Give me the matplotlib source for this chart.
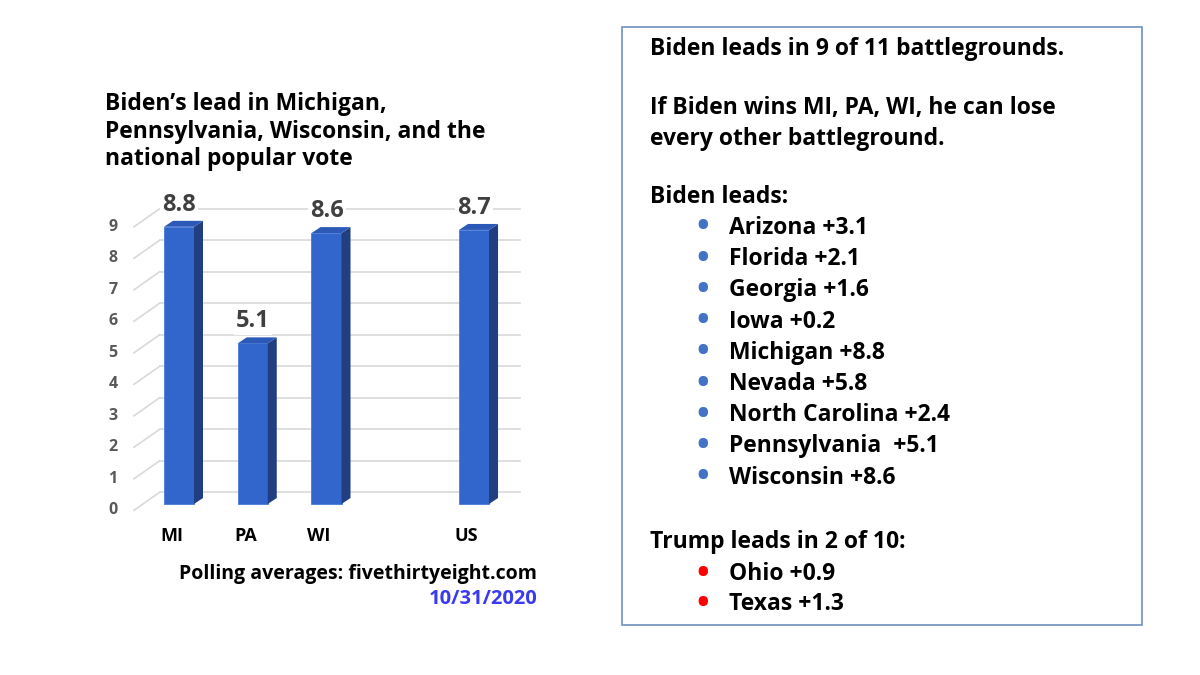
import numpy as np
import matplotlib
matplotlib.use("Agg")
import matplotlib.pyplot as plt
from matplotlib.patches import Polygon, Rectangle

plt.rcParams['font.family'] = ['Open Sans', 'DejaVu Sans']
plt.rcParams['font.weight'] = 'bold'

# data
states = ['MI', 'PA', 'WI', 'US']
positions = [0, 1, 2, 4]          # gap before the national bar
leads = [8.8, 5.1, 8.6, 8.7]
yticks = list(range(0, 10))

title = "Biden\u2019s lead in Michigan,\nPennsylvania, Wisconsin, and the\nnational popular vote"
source = "Polling averages: fivethirtyeight.com"
date = "10/31/2020"

biden_states = ['Arizona +3.1', 'Florida +2.1', 'Georgia +1.6', 'Iowa +0.2',
                'Michigan +8.8', 'Nevada +5.8', 'North Carolina +2.4',
                'Pennsylvania  +5.1', 'Wisconsin +8.6']
trump_states = ['Ohio +0.9', 'Texas +1.3']

W, H = 1200, 675
fig = plt.figure(figsize=(12, 6.75), dpi=100)

def fx(x):
    return x / W

def fy(y):
    return 1 - y / H

# chart axes: pixel box 100..530 x 190..520
ax = fig.add_axes([fx(100), fy(520), 430 / W, 330 / H])
ax.set_xlim(-1.071, 4.759)
ax.set_ylim(-0.508, 9.968)
ax.axis('off')

front = '#3366cc'
side = '#213f80'
top = '#2c59b8'
grid_c = '#d9d9d9'
bw = 0.407
ddx, ddy = 0.122, 0.19   # bar depth
gdy = 0.38               # back wall offset

# back-wall gridlines and slanted floor lines
for v in yticks:
    ax.plot([-0.258, 4.62], [v + gdy, v + gdy], color=grid_c, lw=1.2, zorder=1)
    ax.plot([-0.61, -0.258], [v - 0.2, v + gdy], color=grid_c, lw=1.2, zorder=1)
    ax.text(-0.895, v - 0.2, str(v), ha='center', va='center', fontsize=11.5,
            color='#595959', fontweight='bold')

bars = ax.bar(positions, leads, width=bw, color=front, zorder=3,
              edgecolor='#4a7ad8', linewidth=0.6)
for b, v in zip(bars, leads):
    x0 = b.get_x()
    x1 = x0 + b.get_width()
    ax.add_patch(Polygon([[x1, 0], [x1 + ddx, ddy], [x1 + ddx, v + ddy], [x1, v]],
                         closed=True, facecolor=side, edgecolor='none', zorder=3))
    ax.add_patch(Polygon([[x0, v], [x0 + ddx, v + ddy], [x1 + ddx, v + ddy], [x1, v]],
                         closed=True, facecolor=top, edgecolor='none', zorder=3))
    ax.text(x0 + bw / 2, v + 0.7, f'{v:.1f}', ha='center', va='center',
            fontsize=17, fontweight='bold', color='#404040', zorder=4,
            bbox=dict(facecolor='white', edgecolor='none', pad=1.5))

for p, s in zip(positions, states):
    ax.text(p - 0.1, -1.016, s, ha='center', va='center', fontsize=13,
            fontweight='bold', color='black', clip_on=False)

# title
fig.text(fx(105), fy(92), title, ha='left', va='top', fontsize=16.5,
         fontweight='bold', color='black', linespacing=1.2)

# source + date
fig.text(fx(537), fy(574), source, ha='right', va='center', fontsize=14,
         fontweight='bold', color='black')
fig.text(fx(537), fy(599), date, ha='right', va='center', fontsize=14.5,
         fontweight='bold', color='#3a3af0')

# right box
fig.add_artist(Rectangle((fx(622), fy(625)), 520 / W, 598 / H, transform=fig.transFigure,
                         facecolor='white', edgecolor='#6f8fc4', linewidth=1.2))

fs = 16.5
bs = 24
fig.text(fx(650), fy(49), "Biden leads in 9 of 11 battlegrounds.", fontsize=fs,
         va='center', ha='left', fontweight='bold')
fig.text(fx(650), fy(108), "If Biden wins MI, PA, WI, he can lose", fontsize=fs,
         va='center', ha='left', fontweight='bold')
fig.text(fx(650), fy(139), "every other battleground.", fontsize=fs,
         va='center', ha='left', fontweight='bold')
fig.text(fx(650), fy(197), "Biden leads:", fontsize=fs, va='center', ha='left',
         fontweight='bold')
for i, s in enumerate(biden_states):
    y = 228 + i * 31.2
    fig.text(fx(703), fy(y), '\u2022', fontsize=bs, va='center', ha='center',
             color='#4472c4')
    fig.text(fx(729), fy(y), s, fontsize=fs, va='center', ha='left', fontweight='bold')
fig.text(fx(650), fy(542), "Trump leads in 2 of 10:", fontsize=fs, va='center',
         ha='left', fontweight='bold')
for i, s in enumerate(trump_states):
    y = 574 + i * 30.5
    fig.text(fx(703), fy(y), '\u2022', fontsize=bs, va='center', ha='center',
             color='#ff0000')
    fig.text(fx(729), fy(y), s, fontsize=fs, va='center', ha='left', fontweight='bold')

fig.savefig('out.png', dpi=100, facecolor='white')
